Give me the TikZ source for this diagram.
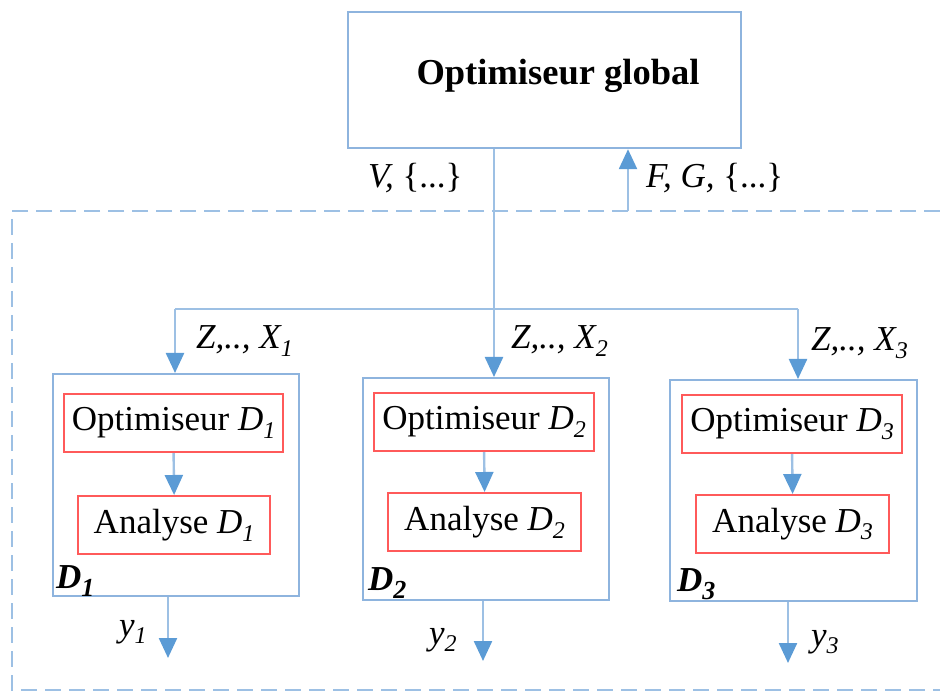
\documentclass[tikz,border=0pt]{standalone}
\usepackage{fontspec}
\setmainfont{Liberation Serif}
\usetikzlibrary{arrows.meta,calc}
\definecolor{lineblue}{HTML}{9DC0E4}
\definecolor{tipblue}{HTML}{5B9BD5}
\definecolor{boxblue}{HTML}{8EB4DE}
\definecolor{boxred}{HTML}{FF5A5A}
\newcommand{\sbi}[1]{\raisebox{-0.22em}{\fontsize{24}{24}\selectfont\itshape #1}}
\newcommand{\sbb}[1]{\raisebox{-0.22em}{\fontsize{26}{26}\selectfont\bfseries\itshape #1}}
\begin{document}
\begin{tikzpicture}[x=1pt,y=-1pt,
  every node/.style={font=\fontsize{35}{40}\selectfont, inner sep=0pt},
  gbox/.style={draw=boxblue, line width=2.2pt, minimum width=393pt, minimum height=136pt, anchor=north west},
  dbox/.style={draw=boxblue, line width=2.2pt, minimum width=246pt, minimum height=222pt, anchor=north west},
  rbox/.style={draw=boxred, line width=2.2pt, minimum height=58pt, anchor=north west},
  conn/.style={draw=lineblue, line width=2.4pt},
  arr/.style={conn, -{Triangle[width=18pt,length=20pt,fill=tipblue,color=tipblue]}},
  lab/.style={anchor=west, font=\fontsize{35}{40}\selectfont\itshape}
]
\useasboundingbox (0,0) rectangle (940,692);

% global optimiser
\node[gbox] (G) at (347,11) {};
\node[font=\fontsize{36.5}{40}\selectfont\bfseries] (Gt) at (558,76) {Optimiseur global};

% dashed frame
\draw[draw=lineblue, line width=2.8pt, dash pattern=on 16pt off 8pt] (940,211) -- (12,211) -- (12,690) -- (940,690);

% discipline boxes
\node[dbox] (D1) at (52,373) {};
\node[dbox, minimum height=222pt] (D2) at (362,377) {};
\node[dbox, minimum width=247pt, minimum height=221pt] (D3) at (669,379) {};

\node[rbox, minimum width=219pt] (O1) at (63,393) {};
\node[anchor=center] (O1t) at (O1.center) {Optimiseur \textit{D}\sbi{1}};
\node[rbox, minimum width=192pt] (A1) at (77,495) {};
\node[anchor=center] (A1t) at (A1.center) {Analyse \textit{D}\sbi{1}};

\node[rbox, minimum width=220pt] (O2) at (373,392) {};
\node[anchor=center] (O2t) at (O2.center) {Optimiseur \textit{D}\sbi{2}};
\node[rbox, minimum width=193pt] (A2) at (387,492) {};
\node[anchor=center] (A2t) at (A2.center) {Analyse \textit{D}\sbi{2}};

\node[rbox, minimum width=220pt] (O3) at (681,394) {};
\node[anchor=center] (O3t) at (O3.center) {Optimiseur \textit{D}\sbi{3}};
\node[rbox, minimum width=193pt] (A3) at (695,494) {};
\node[anchor=center] (A3t) at (A3.center) {Analyse \textit{D}\sbi{3}};

% discipline labels
\node[anchor=west, font=\fontsize{35}{40}\selectfont\bfseries\itshape] (L1) at (56,581) {D\sbb{1}};
\node[anchor=west, font=\fontsize{35}{40}\selectfont\bfseries\itshape] (L2) at (368,583) {D\sbb{2}};
\node[anchor=west, font=\fontsize{35}{40}\selectfont\bfseries\itshape] (L3) at (677,584) {D\sbb{3}};

% coordinates
\coordinate (b2) at (494,309);
\coordinate (b1) at (175,309);
\coordinate (b3) at (798,309);
\coordinate (fg) at (628,211);
\coordinate (e1) at (168,658);
\coordinate (e2) at (483,661);
\coordinate (e3) at (788,663);

% connectors
\draw[arr] (G.south -| b2) -- (D2.north -| b2);
\draw[conn] (b1) -- (b3);
\draw[arr] (b1) -- (D1.north -| b1);
\draw[arr] (b3) -- (D3.north -| b3);
\draw[arr] (fg) -- (G.south -| fg);
\draw[arr] (O1.south) -- (A1.north);
\draw[arr] (O2.south) -- (A2.north);
\draw[arr] (O3.south) -- (A3.north);
\draw[arr] (D1.south -| e1) -- (e1);
\draw[arr] (D2.south -| e2) -- (e2);
\draw[arr] (D3.south -| e3) -- (e3);

% labels
\node[lab] (lv) at (368,178) {V, \textup{\{...\}}};
\node[lab] (lf) at (646,178) {F, G, \textup{\{...\}}};
\node[lab] (z1) at (196,341) {Z,.., X\sbi{1}};
\node[lab] (z2) at (511,341) {Z,.., X\sbi{2}};
\node[lab] (z3) at (811,343) {Z,.., X\sbi{3}};
\node[lab] (y1) at (119,632) {y\sbi{1}};
\node[lab] (y2) at (429,640) {y\sbi{2}};
\node[lab] (y3) at (811,642) {y\sbi{3}};
\end{tikzpicture}
\end{document}
